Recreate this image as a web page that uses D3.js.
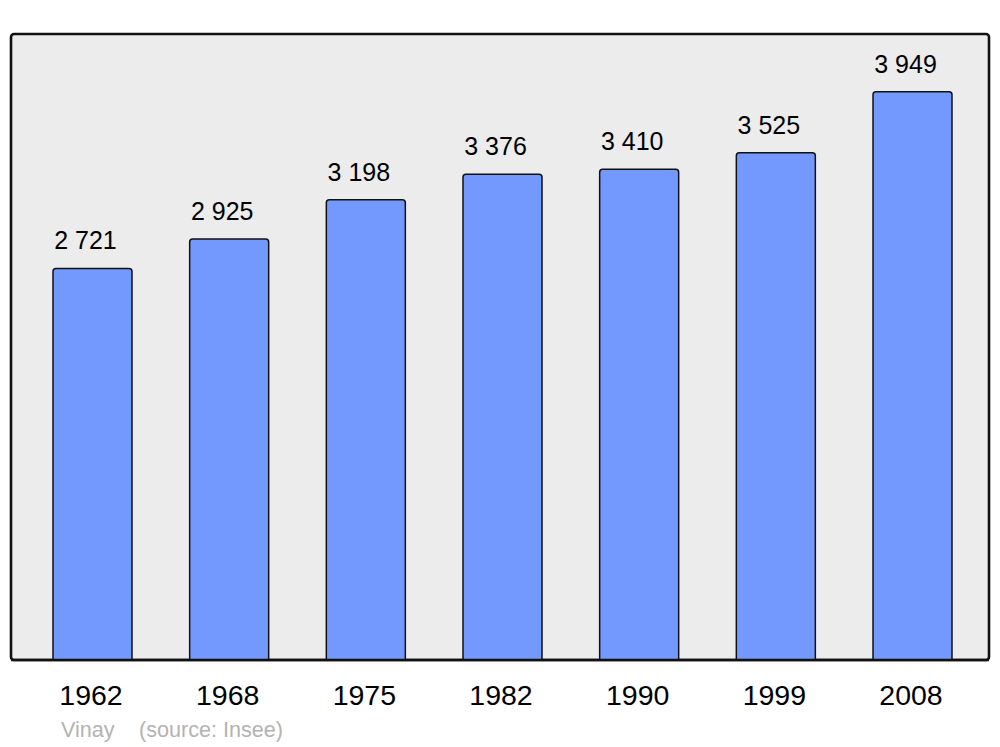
<!DOCTYPE html>
<html>
<head>
<meta charset="utf-8">
<script src="https://cdn.jsdelivr.net/npm/d3@7"></script>
<style>
  body { margin: 0; background: #fff; }
  svg { display: block; font-family: "Liberation Sans", Arial, sans-serif; }
</style>
</head>
<body>
<svg id="chart" width="1000" height="747"></svg>
<script>
// population by census year
var years = ["1962", "1968", "1975", "1982", "1990", "1999", "2008"];
var population = [2721, 2925, 3198, 3376, 3410, 3525, 3949];
var labels = ["2 721", "2 925", "3 198", "3 376", "3 410", "3 525", "3 949"];

var svg = d3.select("#chart");

var frameLeft = 11, frameRight = 989, frameTop = 34, frameBottom = 660;

// frame
svg.append("rect")
    .attr("x", frameLeft).attr("y", frameTop)
    .attr("width", frameRight - frameLeft).attr("height", frameBottom - frameTop)
    .attr("rx", 3).attr("ry", 3)
    .attr("fill", "#ececec")
    .attr("stroke", "#111")
    .attr("stroke-width", 2.6);

var x = d3.scaleBand().domain(years).range([53, 952]).paddingInner(0.422).paddingOuter(0);
var y = d3.scaleLinear().domain([0, 4350]).range([frameBottom, frameTop]);

// bar with rounded top corners only
function barPath(x0, y0, w, h, r) {
    return "M" + x0 + "," + (y0 + h) +
        "V" + (y0 + r) +
        "Q" + x0 + "," + y0 + " " + (x0 + r) + "," + y0 +
        "H" + (x0 + w - r) +
        "Q" + (x0 + w) + "," + y0 + " " + (x0 + w) + "," + (y0 + r) +
        "V" + (y0 + h) + "Z";
}

var g = svg.append("g");
years.forEach(function (yr, i) {
    var bx = x(yr), bw = x.bandwidth();
    var ty = y(population[i]);
    g.append("path")
        .attr("d", barPath(bx, ty, bw, frameBottom - ty, 3))
        .attr("fill", "#7399ff")
        .attr("stroke", "#111")
        .attr("stroke-width", 1.5);

    g.append("text")
        .text(labels[i])
        .attr("x", bx + bw / 2 - 7)
        .attr("y", ty - 19)
        .attr("text-anchor", "middle")
        .attr("font-size", 25)
        .attr("fill", "#000");

    g.append("text")
        .text(yr)
        .attr("x", bx + bw / 2 - 1.5)
        .attr("y", 705)
        .attr("text-anchor", "middle")
        .attr("font-size", 28.5)
        .attr("fill", "#000");
});

// redraw frame bottom line over bars
svg.append("line")
    .attr("x1", frameLeft).attr("x2", frameRight)
    .attr("y1", frameBottom).attr("y2", frameBottom)
    .attr("stroke", "#111").attr("stroke-width", 2.6);

svg.append("text").text("Vinay")
    .attr("x", 61).attr("y", 737)
    .attr("font-size", 21.6).attr("fill", "#b3b3b3");
svg.append("text").text("(source: Insee)")
    .attr("x", 139).attr("y", 737)
    .attr("font-size", 21.6).attr("fill", "#b3b3b3");
</script>
</body>
</html>
